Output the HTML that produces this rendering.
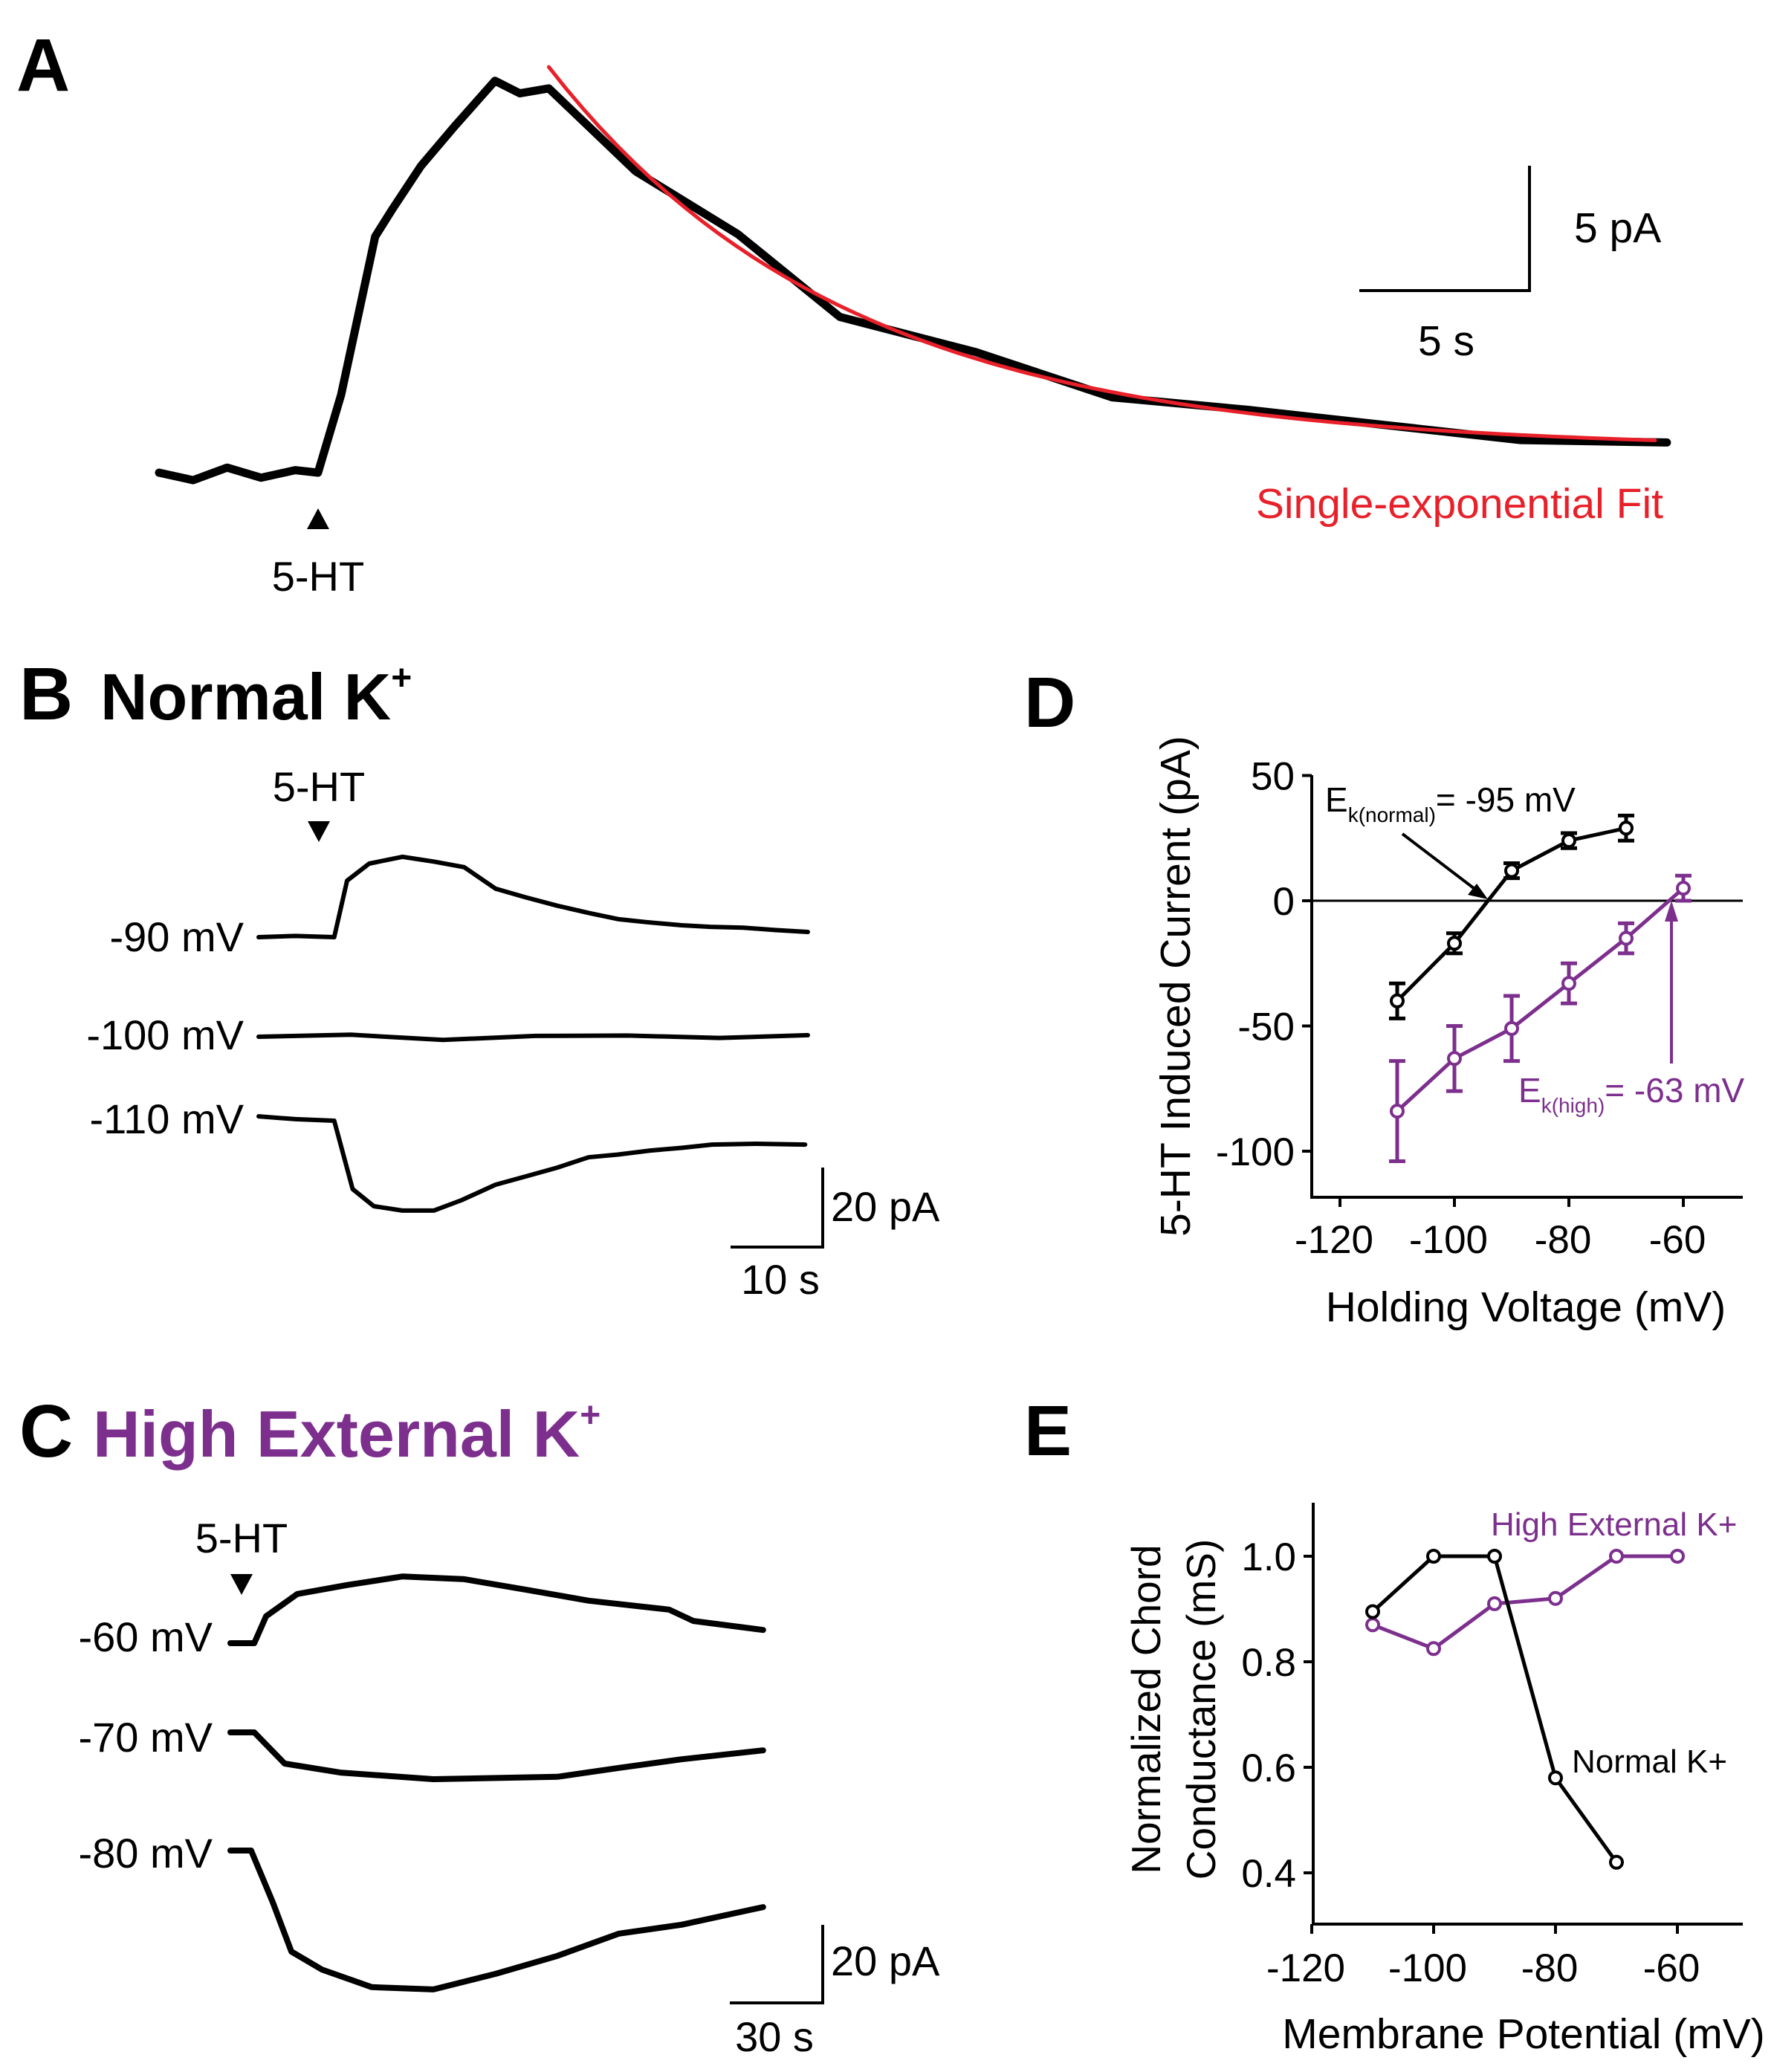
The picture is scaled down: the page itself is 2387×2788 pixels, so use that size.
<!DOCTYPE html>
<html><head><meta charset="utf-8"><style>
html,body{margin:0;padding:0;background:#fff;}
svg{display:block;font-family:"Liberation Sans",Arial,sans-serif;}
</style></head><body>
<svg id="fig" width="2387" height="2788" viewBox="0 0 2387 2788" xmlns="http://www.w3.org/2000/svg">
<rect width="2387" height="2788" fill="#fff"/>
<g id="g" fill="none"></g>
</svg>
<script>
// ---------- Panel A data ----------
const aTime = [0,1,2,3,4,4.67,5.35,6.35,6.86,7.69,8.69,9.87,10.6,11.45,14,17,20,24,28,32,36,40,44.3];
const aCurrent = [0,-0.3,0.2,-0.2,0.1,0,3.1,9.4,10.5,12.2,13.8,15.6,15.1,15.3,12.0,9.5,6.2,4.8,3.0,2.5,1.9,1.3,1.2];
const aFitStart = 11.45, aFitEnd = 44.3, aFitOffset = 0.92, aFitAmp = 15.23, aFitTau = 8.73;
// ---------- Panel B data ----------
const bTime90 = [0,4,8.2,9.6,12,15.6,19,22.3,25.7,29,32.4,36,39.1,42,45.9,49,52.6,56,59.6];
const bCur90 = [0,0.3,0,14.2,18.5,20.2,19.0,17.6,12.2,10.0,7.9,6.0,4.5,3.8,3.0,2.6,2.4,1.8,1.3];
const bTime100 = [0,10,20,30,40,50,59.6];
const bCur100 = [0,0.5,-0.8,0.2,0.3,-0.3,0.4];
const bTime110 = [0,4,8.2,10.2,12.5,15.6,19,22,25.7,29,32.4,35.8,39,42.5,46,49.2,54,59.3];
const bCur110 = [1.1,0.4,0,-17.2,-21.5,-22.6,-22.6,-20,-16.1,-14,-11.8,-9.2,-8.5,-7.5,-6.8,-6.0,-5.8,-6.0];
// ---------- Panel C data ----------
const cTime60 = [0,7.7,11.5,21.6,37.6,55.6,75.5,95.4,115.6,141.5,149.4,171.9];
const cCur60 = [0,0,6.9,12.6,14.9,17.1,16.4,13.7,10.9,8.6,5.7,3.4];
const cTime70 = [0,7.7,17.5,35.5,65.5,105.5,125.4,145.6,171.9];
const cCur70 = [0,0,-8.0,-10.3,-12.0,-11.4,-9.1,-6.9,-4.6];
const cTime80 = [0,6.7,13.7,19.7,29.5,45.6,65.5,85.6,105.5,125.4,145.6,171.9];
const cCur80 = [0,0,-13.3,-25.9,-30.5,-35.0,-35.6,-31.6,-27.0,-21.3,-19.0,-14.5];
// ---------- Panel D data ----------
const dVoltNormal = [-110,-100,-90,-80,-70];
const dCurNormal = [-40,-17,12,24,29];
const dErrNormal = [7,4,3,3,5];
const dVoltHigh = [-110,-100,-90,-80,-70,-60];
const dCurHigh = [-84,-63,-51,-33,-15,5];
const dErrHigh = [20,13,13,8,6,5];
const dXTicks = [-120,-100,-80,-60];
const dYTicks = [50,0,-50,-100];
// ---------- Panel E data ----------
const eVoltNormal = [-110,-100,-90,-80,-70];
const eCondNormal = [0.895,1.0,1.0,0.58,0.42];
const eVoltHigh = [-110,-100,-90,-80,-70,-60];
const eCondHigh = [0.87,0.825,0.91,0.92,1.0,1.0];
const eXTicks = [-120,-100,-80,-60];
const eYTicks = ["1.0","0.8","0.6","0.4"];

const NS="http://www.w3.org/2000/svg";
const root=document.getElementById('g');
const PURPLE="#7d2f8e", RED="#e8202a";
function mk(tag,attrs,parent){const e=document.createElementNS(NS,tag);for(const k in attrs)e.setAttribute(k,attrs[k]);(parent||root).appendChild(e);return e;}
function txt(s,x,y,size,opts){opts=opts||{};const t=mk('text',{x:x,y:y,'font-size':size,fill:opts.fill||'#000','text-anchor':opts.anchor||'start','dominant-baseline':opts.base||'auto','font-weight':opts.weight||'normal'});if(opts.transform)t.setAttribute('transform',opts.transform);t.textContent=s;return t;}
function poly(xs,ys,fx,fy,stroke,w){let d='';for(let i=0;i<xs.length;i++){d+=(i?'L':'M')+fx(xs[i]).toFixed(1)+' '+fy(ys[i]).toFixed(1);}return mk('path',{d:d,stroke:stroke,'stroke-width':w,fill:'none','stroke-linejoin':'round','stroke-linecap':'round'});}
function line(x1,y1,x2,y2,stroke,w){return mk('line',{x1:x1,y1:y1,x2:x2,y2:y2,stroke:stroke,'stroke-width':w});}

const LBL=56;
// ===== Panel A =====
let e;
e=txt('A',22,122,100,{weight:'bold'});


const axA=t=>214+t*45.8, ayA=v=>636-v*33.8;
e=poly(aTime,aCurrent,axA,ayA,'#000',11);


const fitT=[],fitV=[];
for(let t=aFitStart;t<=aFitEnd+0.001;t+=0.5){fitT.push(t);fitV.push(aFitOffset+aFitAmp*Math.exp(-(t-aFitStart)/aFitTau));}
e=poly(fitT,fitV,axA,ayA,RED,5);


e=mk('path',{d:'M428 684 L443 712 L413 712 Z',fill:'#000'});


e=txt('5-HT',428,795,LBL,{anchor:'middle'});


e=mk('path',{d:'M1829 391 L2058 391 L2058 223',stroke:'#000','stroke-width':4,fill:'none'});


e=txt('5 pA',2118,326,57);


e=txt('5 s',1946,478,57,{anchor:'middle'});


e=txt('Single-exponential Fit',2238,697,57,{anchor:'end',fill:RED});



// ===== Panel B =====
e=txt('B',26,968,100,{weight:'bold'});


e=mk('text',{x:135,y:968,'font-size':88,'font-weight':'bold',fill:'#000'});
e.innerHTML='Normal K<tspan font-size="48" dy="-40">+</tspan>';


const bx=t=>348+t*12.4;
e=poly(bTime90,bCur90,bx,v=>1261-v*5.35,'#000',6);


e=poly(bTime100,bCur100,bx,v=>1395-v*5.35,'#000',6);


e=poly(bTime110,bCur110,bx,v=>1508-v*5.35,'#000',6);


e=txt('-90 mV',328,1280,LBL,{anchor:'end'});


e=txt('-100 mV',328,1412,LBL,{anchor:'end'});


e=txt('-110 mV',328,1525,LBL,{anchor:'end'});


e=txt('5-HT',429,1078,LBL,{anchor:'middle'});


e=mk('path',{d:'M414 1105 L444 1105 L429 1133 Z',fill:'#000'});


e=mk('path',{d:'M983 1678 L1107 1678 L1107 1571',stroke:'#000','stroke-width':4,fill:'none'});


e=txt('20 pA',1118,1643,LBL);


e=txt('10 s',1050,1741,LBL,{anchor:'middle'});



// ===== Panel C =====
e=txt('C',26,1960,100,{weight:'bold'});


e=mk('text',{x:125,y:1960,'font-size':88,'font-weight':'bold',fill:PURPLE});
e.innerHTML='High External K<tspan font-size="48" dy="-40">+</tspan>';


const cx=t=>310+t*4.17;
e=poly(cTime60,cCur60,cx,v=>2211-v*5.25,'#000',8);


e=poly(cTime70,cCur70,cx,v=>2331-v*5.25,'#000',8);


e=poly(cTime80,cCur80,cx,v=>2490-v*5.25,'#000',8);


e=txt('-60 mV',286,2222,LBL,{anchor:'end'});


e=txt('-70 mV',286,2357,LBL,{anchor:'end'});


e=txt('-80 mV',286,2513,LBL,{anchor:'end'});


e=txt('5-HT',325,2089,LBL,{anchor:'middle'});


e=mk('path',{d:'M310 2118 L340 2118 L325 2146 Z',fill:'#000'});


e=mk('path',{d:'M982 2695 L1107 2695 L1107 2590',stroke:'#000','stroke-width':4,fill:'none'});


e=txt('20 pA',1118,2658,LBL);


e=txt('30 s',1042,2760,LBL,{anchor:'middle'});



// ===== Panel D =====
e=txt('D',1378,978,96,{weight:'bold'});


const xD=v=>1803+(v+120)*7.7, yD=v=>1212-v*3.37;
e=mk('path',{d:'M1765 1043 L1765 1611 L2345 1611',stroke:'#000','stroke-width':4,fill:'none'});


e=line(1765,yD(0),2345,yD(0),'#000',3);


dYTicks.forEach(v=>{
  e=line(1752,yD(v),1765,yD(v),'#000',4);
  
  
  e=txt(String(v),1742,yD(v)+19,53,{anchor:'end'});
  
  
});
dXTicks.forEach(v=>{
  e=line(xD(v),1611,xD(v),1624,'#000',4);
  
  
  e=txt(String(v),xD(v)-8,1686,53,{anchor:'middle'});
  
  
});
e=txt('Holding Voltage (mV)',2053,1778,57,{anchor:'middle'});


e=txt('5-HT Induced Current (pA)',1601,1327,57,{anchor:'middle',transform:'rotate(-90 1601 1327)'});


function seriesD(vs,cs,es,color,name){
  e=poly(vs,cs,xD,yD,color,5);
  
  
  for(let i=0;i<vs.length;i++){
    const x=xD(vs[i]);
    e=mk('path',{d:`M${x} ${yD(cs[i]-es[i])} L${x} ${yD(cs[i]+es[i])} M${x-11} ${yD(cs[i]-es[i])} L${x+11} ${yD(cs[i]-es[i])} M${x-11} ${yD(cs[i]+es[i])} L${x+11} ${yD(cs[i]+es[i])}`,stroke:color,'stroke-width':5,fill:'none'});
    
    
    e=mk('circle',{cx:x,cy:yD(cs[i]),r:8,fill:'#fff',stroke:color,'stroke-width':4});
    
    
  }
}
seriesD(dVoltNormal,dCurNormal,dErrNormal,'#000','d-normal');
seriesD(dVoltHigh,dCurHigh,dErrHigh,PURPLE,'d-high');
e=mk('text',{x:1783,y:1092,'font-size':46,fill:'#000'});
e.innerHTML='E<tspan font-size="28" dy="14">k(normal)</tspan><tspan dy="-14">= -95 mV</tspan>';


e=mk('path',{d:'M1887 1122 L1996 1205',stroke:'#000','stroke-width':4});


e=mk('path',{d:'M2002 1210 L1975 1204 L1987 1189 Z',fill:'#000'});


e=mk('path',{d:'M2249 1431 L2249 1222',stroke:PURPLE,'stroke-width':4});


e=mk('path',{d:'M2249 1212 L2240 1240 L2258 1240 Z',fill:PURPLE});


e=mk('text',{x:2043,y:1483,'font-size':46,fill:PURPLE});
e.innerHTML='E<tspan font-size="28" dy="14">k(high)</tspan><tspan dy="-14">= -63 mV</tspan>';



// ===== Panel E =====
e=txt('E',1378,1958,96,{weight:'bold'});


const xE=v=>1765+(v+120)*8.2, yE=v=>2094-(v-1.0)*710;
e=mk('path',{d:'M1767 2022 L1767 2589 L2345 2589',stroke:'#000','stroke-width':4,fill:'none'});


eYTicks.forEach(s=>{
  const v=parseFloat(s);
  e=line(1754,yE(v),1767,yE(v),'#000',4);
  
  
  e=txt(s,1744,yE(v)+19,53,{anchor:'end'});
  
  
});
eXTicks.forEach(v=>{
  e=line(xE(v),2589,xE(v),2602,'#000',4);
  
  
  e=txt(String(v),xE(v)-8,2666,53,{anchor:'middle'});
  
  
});
e=txt('Membrane Potential (mV)',2050,2756,57,{anchor:'middle'});


e=txt('Normalized Chord',1561,2300,55,{anchor:'middle',transform:'rotate(-90 1561 2300)'});


e=txt('Conductance (mS)',1635,2300,55,{anchor:'middle',transform:'rotate(-90 1635 2300)'});


function seriesE(vs,cs,color,name){
  e=poly(vs,cs,xE,yE,color,5);
  
  
  for(let i=0;i<vs.length;i++){
    e=mk('circle',{cx:xE(vs[i]),cy:yE(cs[i]),r:8,fill:'#fff',stroke:color,'stroke-width':4});
    
    
  }
}
seriesE(eVoltHigh,eCondHigh,PURPLE,'e-high');
seriesE(eVoltNormal,eCondNormal,'#000','e-normal');
e=txt('High External K+',2006,2066,44,{fill:PURPLE});


e=txt('Normal K+',2115,2385,44);


</script>
</body></html>
